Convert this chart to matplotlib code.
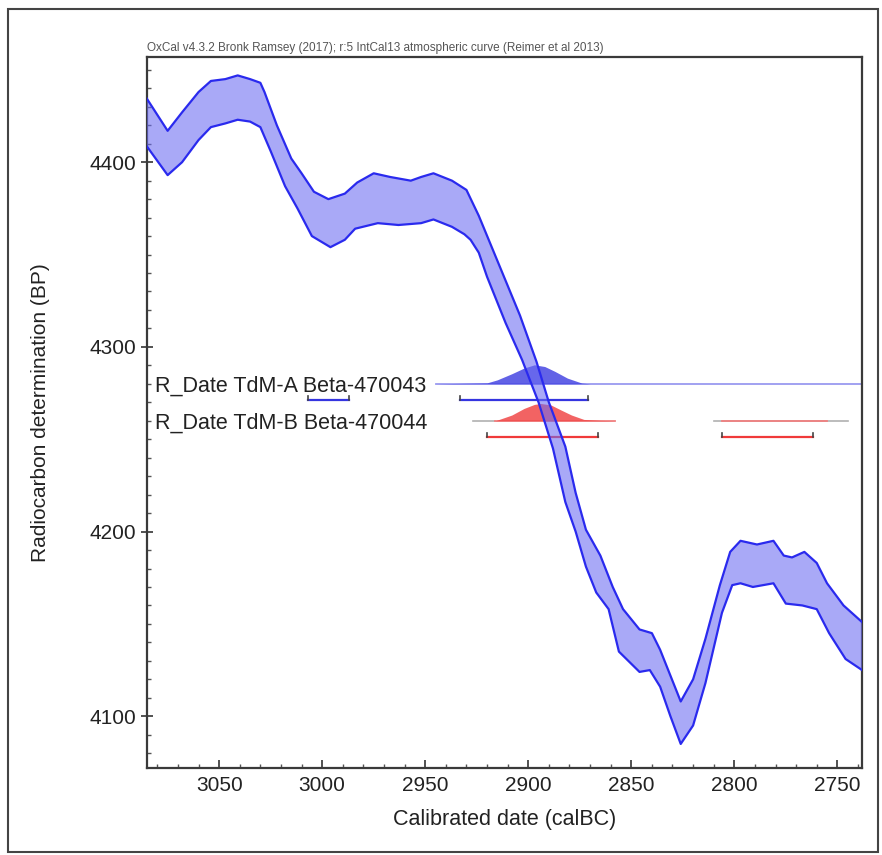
import matplotlib
matplotlib.use("Agg")
import matplotlib.pyplot as plt
from matplotlib.ticker import MultipleLocator
from matplotlib.patches import Rectangle

# calibration curve envelope (calBC, BP)
upper_year = [3086, 3075, 3068, 3060, 3054, 3047, 3041, 3035, 3030, 3028,
              3022, 3015, 3010, 3004, 2997, 2989, 2983, 2975, 2967, 2957,
              2952, 2946, 2937, 2930, 2924, 2914, 2904, 2896, 2890, 2882,
              2877, 2872, 2865, 2859, 2854, 2846, 2840, 2836, 2831, 2826,
              2820, 2814, 2807, 2802, 2797, 2789, 2781, 2776, 2772, 2766,
              2760, 2755, 2747, 2738]
upper_bp = [4436, 4417, 4427, 4438, 4444, 4445, 4447, 4445, 4443, 4438,
            4420, 4402, 4394, 4384, 4380, 4383, 4389, 4394, 4392, 4390,
            4392, 4394, 4390, 4385, 4371, 4344, 4317, 4292, 4270, 4246,
            4221, 4201, 4187, 4170, 4158, 4147, 4145, 4136, 4122, 4108,
            4120, 4142, 4171, 4189, 4195, 4193, 4195, 4187, 4186, 4189,
            4183, 4172, 4160, 4151]
lower_year = [3086, 3075, 3068, 3060, 3054, 3047, 3041, 3035, 3030,
              3025, 3018, 3012, 3005, 2996, 2989, 2984, 2973, 2963, 2952,
              2946, 2937, 2931, 2928, 2924, 2920, 2911, 2903, 2895, 2888,
              2882, 2877, 2872, 2867, 2861, 2856, 2846, 2841, 2836, 2831,
              2826, 2820, 2814, 2806, 2801, 2797, 2791, 2781, 2775, 2767,
              2760, 2754, 2746, 2738]
lower_bp = [4410, 4393, 4400, 4412, 4419, 4421, 4423, 4422, 4419,
            4406, 4387, 4375, 4360, 4354, 4358, 4364, 4367, 4366, 4367,
            4369, 4365, 4361, 4358, 4351, 4338, 4313, 4293, 4270, 4245,
            4216, 4200, 4181, 4167, 4158, 4135, 4124, 4125, 4116, 4100,
            4085, 4095, 4118, 4156, 4171, 4172, 4170, 4172, 4161, 4160,
            4158, 4145, 4131, 4125]

# calibrated dates
names = ["R_Date TdM-A Beta-470043", "R_Date TdM-B Beta-470044"]
bp_level = [4280, 4260]
dist_a_year = [2945, 2930, 2925, 2920, 2915, 2908, 2902, 2897, 2892, 2887, 2881, 2874, 2870]
dist_a_prob = [0.0, 0.03, 0.04, 0.05, 0.21, 0.53, 0.83, 1.0, 0.91, 0.65, 0.3, 0.04, 0.0]
dist_b_year = [2916, 2908, 2902, 2897, 2894, 2889, 2884, 2879, 2873, 2865, 2858]
dist_b_prob = [0.0, 0.3, 0.65, 0.86, 0.91, 0.83, 0.56, 0.30, 0.07, 0.02, 0.0]
tail_a = [2945, 2738]
tail_b_grey = [(2927, 2916), (2810, 2745)]
tail_b_red = [(2916, 2858), (2806, 2755)]
range_a = [(2933, 2871), (3007, 2987)]
range_b = [(2920, 2866), (2806, 2762)]
range_level = [4271, 4251]

BLUE = "#2a2aee"
RED = "#f03a3a"
SCALE = 10.3   # BP height of a peak of 1.0
TICK_H = 2.2

fig = plt.figure(figsize=(8.82, 8.55), dpi=100)
ax = fig.add_axes([0.1667, 0.1018, 0.8107, 0.8316])

fig.patches.append(Rectangle((0.009, 0.004), 0.987, 0.985, transform=fig.transFigure,
                             fill=False, edgecolor="#444444", linewidth=1.5))

# distributions
ax.plot(tail_a, [bp_level[0]] * 2, color="#9a9af0", lw=1.3, zorder=2)
ax.fill_between(dist_a_year, bp_level[0], [bp_level[0] + p * SCALE for p in dist_a_prob],
                color="#4646e2", alpha=0.85, lw=0, zorder=3)
for x0, x1 in tail_b_grey:
    ax.plot([x0, x1], [bp_level[1]] * 2, color="#b0b0b0", lw=1.2, zorder=2)
for x0, x1 in tail_b_red:
    ax.plot([x0, x1], [bp_level[1]] * 2, color="#f08080", lw=1.3, zorder=2)
ax.fill_between(dist_b_year, bp_level[1], [bp_level[1] + p * SCALE for p in dist_b_prob],
                color="#f04848", alpha=0.85, lw=0, zorder=3)

# 95.4% ranges
for ranges, lev, col in [(range_a, range_level[0], "#3535e0"), (range_b, range_level[1], RED)]:
    for x0, x1 in ranges:
        ax.plot([x0, x1], [lev, lev], color=col, lw=1.6, zorder=3)
        ax.plot([x0, x0], [lev, lev + TICK_H], color="#444444", lw=1.2, zorder=3)
        ax.plot([x1, x1], [lev, lev + TICK_H], color="#444444", lw=1.2, zorder=3)

for name, lev in zip(names, bp_level):
    ax.text(3081, lev - 4.5, name, fontsize=15.5, color="#222222",
            family="Liberation Sans", va="baseline", ha="left", zorder=4)

# calibration curve
ax.fill(upper_year + lower_year[::-1], upper_bp + lower_bp[::-1],
        color=(0.42, 0.42, 0.95), alpha=0.58, lw=0, zorder=5)
ax.plot(upper_year, upper_bp, color=BLUE, lw=1.6, zorder=6)
ax.plot(lower_year, lower_bp, color=BLUE, lw=1.6, zorder=6)

ax.set_xlim(3085, 2738)
ax.set_ylim(4072, 4457)
ax.xaxis.set_major_locator(MultipleLocator(50))
ax.xaxis.set_minor_locator(MultipleLocator(10))
ax.yaxis.set_major_locator(MultipleLocator(100))
ax.yaxis.set_minor_locator(MultipleLocator(10))
ax.tick_params(axis="x", which="major", direction="in", length=6, width=1.2,
               labelsize=15, pad=6, colors="#333333", labelcolor="#222222")
ax.tick_params(axis="x", which="minor", direction="in", length=3, width=1, colors="#555555")
ax.tick_params(axis="y", which="major", direction="inout", length=8, width=1.2,
               labelsize=15, pad=4, colors="#333333", labelcolor="#222222")
ax.tick_params(axis="y", which="minor", direction="in", length=3, width=1, colors="#555555")
for lab in ax.get_xticklabels() + ax.get_yticklabels():
    lab.set_family("Liberation Sans")

for sp in ax.spines.values():
    sp.set_color("#3a3a3a")
    sp.set_linewidth(1.6)

ax.set_xlabel("Calibrated date (calBC)", fontsize=15.5, family="Liberation Sans",
              color="#222222", labelpad=10)
ax.set_ylabel("Radiocarbon determination (BP)", fontsize=15, family="Liberation Sans",
              color="#222222", labelpad=28)
ax.text(0.0, 1.004, "OxCal v4.3.2 Bronk Ramsey (2017); r:5 IntCal13 atmospheric curve (Reimer et al 2013)",
        transform=ax.transAxes, fontsize=8.5, color="#555555", family="Liberation Sans",
        ha="left", va="bottom")

fig.savefig("out.png", dpi=100)
